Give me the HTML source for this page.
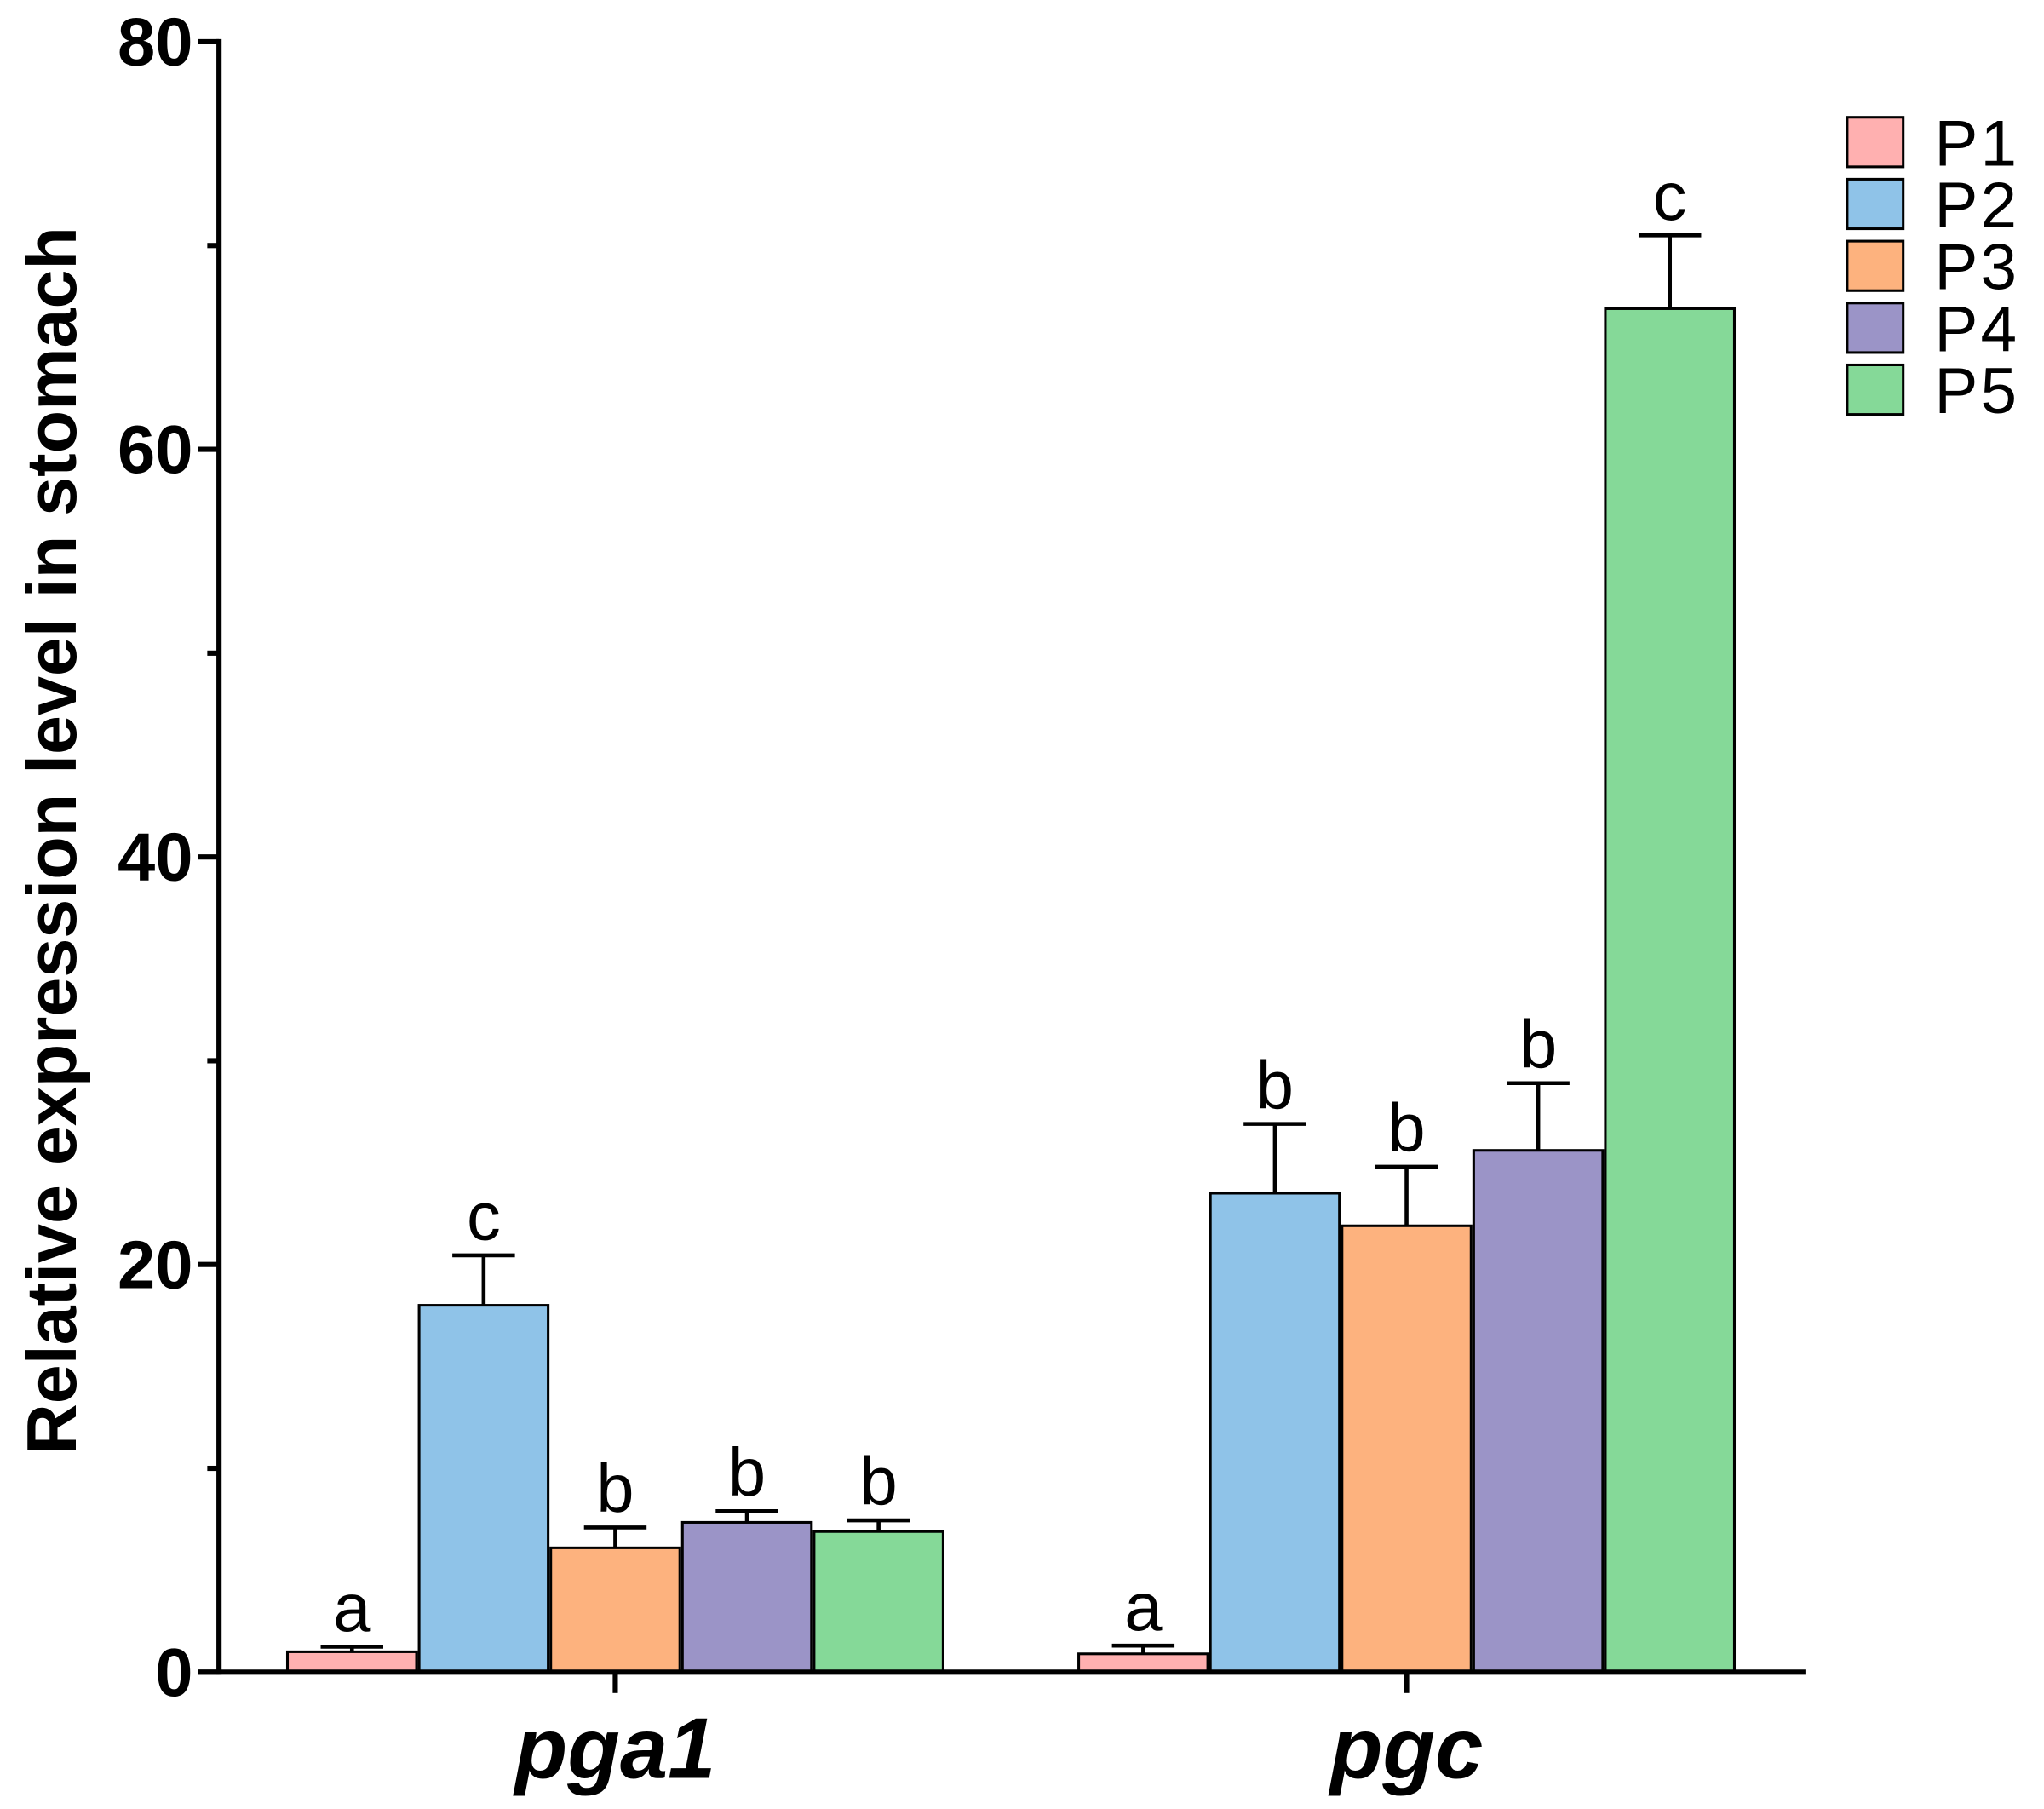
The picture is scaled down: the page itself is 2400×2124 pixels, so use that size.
<!DOCTYPE html>
<html><head><meta charset="utf-8"><style>html,body{margin:0;padding:0;background:#fff}svg{display:block}</style></head>
<body>
<svg id="chart" width="2400" height="2124" viewBox="0 0 1568 1388" preserveAspectRatio="none" xmlns="http://www.w3.org/2000/svg" font-family="Liberation Sans, Arial, sans-serif"></svg>
<script>
const genes = ['pga1', 'pgc'];
const seriesNames = ['P1', 'P2', 'P3', 'P4', 'P5'];
const seriesColors = ['#ffb0b0', '#8fc3e8', '#fdb27e', '#9b94c7', '#85d998'];
const valuesP1 = [1.0, 0.9];
const valuesP2 = [18.0, 23.5];
const valuesP3 = [6.1, 21.9];
const valuesP4 = [7.35, 25.6];
const valuesP5 = [6.9, 66.9];
const errP1 = [0.25, 0.4];
const errP2 = [2.45, 3.4];
const errP3 = [1.0, 2.9];
const errP4 = [0.55, 3.3];
const errP5 = [0.55, 3.6];
const lettersP1 = ['a', 'a'];
const lettersP2 = ['c', 'b'];
const lettersP3 = ['b', 'b'];
const lettersP4 = ['b', 'b'];
const lettersP5 = ['b', 'c'];
const yTicks = [0, 20, 40, 60, 80];
const yMinorTicks = [10, 30, 50, 70];

const vals = [valuesP1, valuesP2, valuesP3, valuesP4, valuesP5];
const errs = [errP1, errP2, errP3, errP4, errP5];
const lets = [lettersP1, lettersP2, lettersP3, lettersP4, lettersP5];
const NS = 'http://www.w3.org/2000/svg';
const svg = document.getElementById('chart');
const X0 = 168, Y0 = 1283, Y80 = 32;
const y = v => Y0 - (v / 80) * (Y0 - Y80);
const groupCenter = [472, 1079];
const barW = 101;
const barX = (g, s) => groupCenter[g] + (s - 2.5) * barW + 1;
function el(tag, attrs, text) {
  const e = document.createElementNS(NS, tag);
  for (const k in attrs) e.setAttribute(k, attrs[k]);
  if (text !== undefined) e.textContent = text;
  svg.appendChild(e);
  return e;
}
for (let g = 0; g < genes.length; g++) {
  for (let s = 0; s < 5; s++) {
    const v = vals[s][g], e = errs[s][g];
    const x = barX(g, s), w = barW - 2;
    const r = el('rect', {x: x, y: y(v), width: w, height: Y0 - y(v), fill: seriesColors[s], stroke: '#000', 'stroke-width': 2});
    
    
    const cx = x + w / 2;
    const eb = el('path', {d: `M${cx},${y(v)}V${y(v + e)}M${cx - 24},${y(v + e)}H${cx + 24}`, stroke: '#000', 'stroke-width': 3, fill: 'none'});
    
    
    const t = el('text', {x: cx, y: y(v + e) - 12, 'font-size': 52, 'text-anchor': 'middle'}, lets[s][g]);
    
    
  }
}
const ya = el('path', {d: `M${X0},${Y80 - 2}V${Y0 + 2}`, stroke: '#000', 'stroke-width': 4});


const xa = el('path', {d: `M${X0 - 16},${Y0}H1385`, stroke: '#000', 'stroke-width': 4});


for (const t of yTicks) {
  const tk = el('path', {d: `M${X0 - 16},${y(t)}H${X0}`, stroke: '#000', 'stroke-width': 4});
  
  
  const lb = el('text', {x: 148, y: y(t) + 18, 'font-size': 52, 'font-weight': 'bold', 'text-anchor': 'end'}, String(t));
  
  
}
for (const t of yMinorTicks) {
  const tk = el('path', {d: `M${X0 - 9},${y(t)}H${X0}`, stroke: '#000', 'stroke-width': 4});
  
  
}
for (let g = 0; g < genes.length; g++) {
  const tk = el('path', {d: `M${groupCenter[g]},${Y0}V${Y0 + 16}`, stroke: '#000', 'stroke-width': 4});
  
  
  const lb = el('text', {x: groupCenter[g], y: 1364, 'font-size': 66, 'font-weight': 'bold', 'font-style': 'italic', 'text-anchor': 'middle'}, genes[g]);
  
  
}
const yt = el('text', {x: 0, y: 0, 'font-size': 54, 'font-weight': 'bold', 'text-anchor': 'middle', transform: 'translate(58,645) rotate(-90)'}, 'Relative expression level in stomach');


for (let s = 0; s < 5; s++) {
  const yy = 90 + s * 47.5;
  const r = el('rect', {x: 1417, y: yy, width: 43, height: 38, fill: seriesColors[s], stroke: '#000', 'stroke-width': 2});
  
  
  const t = el('text', {x: 1484, y: yy + 37, 'font-size': 50, 'letter-spacing': 2}, seriesNames[s]);
  
  
}
</script>
</body></html>
